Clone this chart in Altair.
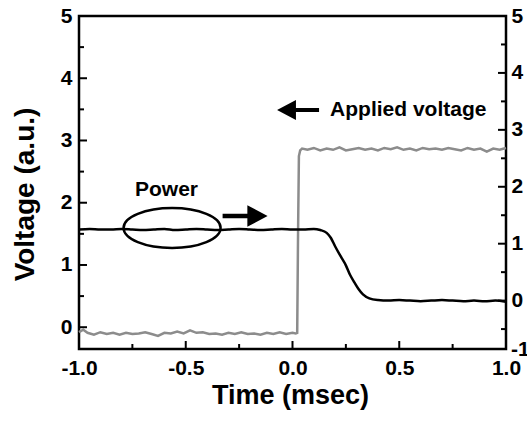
import altair as alt
import pandas as pd

# ---------------- data ----------------
applied_t = [-1.00, -0.98, -0.96, -0.93, -0.90, -0.87, -0.84, -0.81, -0.78, -0.75,
             -0.72, -0.69, -0.66, -0.63, -0.60, -0.57, -0.54, -0.51, -0.48, -0.45,
             -0.42, -0.39, -0.36, -0.33, -0.30, -0.27, -0.24, -0.21, -0.18, -0.15,
             -0.12, -0.09, -0.06, -0.03, 0.00, 0.015, 0.022, 0.026, 0.030, 0.036,
             0.045, 0.07, 0.10, 0.13, 0.16, 0.19, 0.22, 0.25, 0.28, 0.31,
             0.34, 0.37, 0.40, 0.43, 0.46, 0.49, 0.52, 0.55, 0.58, 0.61,
             0.64, 0.67, 0.70, 0.73, 0.76, 0.79, 0.82, 0.85, 0.88, 0.91,
             0.94, 0.97, 1.00]
applied_v = [-0.08, -0.04, -0.09, -0.12, -0.08, -0.11, -0.09, -0.12, -0.09, -0.11,
             -0.10, -0.08, -0.11, -0.14, -0.09, -0.10, -0.07, -0.10, -0.05, -0.09,
             -0.08, -0.11, -0.10, -0.12, -0.09, -0.11, -0.08, -0.11, -0.10, -0.12,
             -0.09, -0.11, -0.08, -0.11, -0.09, -0.10, -0.09, 1.50, 2.75, 2.84,
             2.87, 2.85, 2.88, 2.84, 2.87, 2.85, 2.89, 2.84, 2.86, 2.88,
             2.85, 2.87, 2.84, 2.88, 2.86, 2.89, 2.85, 2.87, 2.84, 2.88,
             2.86, 2.87, 2.85, 2.88, 2.86, 2.84, 2.88, 2.85, 2.87, 2.82,
             2.87, 2.85, 2.88]

power_t = [-1.00, -0.95, -0.90, -0.85, -0.80, -0.75, -0.70, -0.65, -0.60, -0.55,
           -0.50, -0.45, -0.40, -0.35, -0.30, -0.25, -0.20, -0.15, -0.10, -0.05,
           0.00, 0.05, 0.10, 0.13, 0.16, 0.18, 0.20, 0.23, 0.25, 0.27,
           0.29, 0.31, 0.33, 0.36, 0.40, 0.45, 0.50, 0.55, 0.60, 0.65,
           0.70, 0.75, 0.80, 0.85, 0.90, 0.95, 1.00]
power_v = [1.25, 1.26, 1.25, 1.25, 1.26, 1.25, 1.24, 1.25, 1.26, 1.24,
           1.25, 1.26, 1.25, 1.24, 1.25, 1.26, 1.25, 1.24, 1.25, 1.26,
           1.25, 1.25, 1.26, 1.24, 1.19, 1.10, 0.95, 0.75, 0.62, 0.45,
           0.32, 0.20, 0.11, 0.04, 0.01, 0.00, 0.01, 0.00, -0.01, 0.00,
           0.01, 0.00, -0.01, 0.00, -0.01, 0.00, -0.02]

x_major = [-1.0, -0.5, 0.0, 0.5, 1.0]
x_minor = [-0.75, -0.25, 0.25, 0.75]
left_major = [0, 1, 2, 3, 4, 5]
left_minor = [0.5, 1.5, 2.5, 3.5, 4.5]
right_major = [0, 1, 2, 3, 4, 5]
right_minor = [-0.5, 0.5, 1.5, 2.5, 3.5, 4.5]
right_bottom_label = ["-1"]

left_domain = [-0.35, 5]
right_domain = [-0.85, 5]

label_text = ["Power", "Applied voltage"]
label_t = [-0.59, 0.176]
label_v = [2.2, 3.49]

ellipse_t = [-0.564]
ellipse_v = [1.594]
arrow_right_t = [-0.222]
arrow_right_v = [1.787]
arrow_left_t = [0.026]
arrow_left_v = [3.49]

# ---------------- styling ----------------
FONT = "Liberation Sans"
W, H = 427, 333
GRAY = "#8c8c8c"

ARROW = "M -1 -0.1 L 0.1 -0.1 L 0.1 -0.48 L 1 0 L 0.1 0.48 L 0.1 0.1 L -1 0.1 Z"
k = 0.41
c = round(0.5523 * k, 4)
ELLIPSE = (f"M -1 0 C -1 {-c} -0.5523 {-k} 0 {-k} C 0.5523 {-k} 1 {-c} 1 0 "
           f"C 1 {c} 0.5523 {k} 0 {k} C -0.5523 {k} -1 {c} -1 0 Z")

x_scale = alt.Scale(domain=[-1, 1], nice=False, zero=False)
yl_scale = alt.Scale(domain=left_domain, nice=False, zero=False)
yr_scale = alt.Scale(domain=right_domain, nice=False, zero=False)

x_axis = alt.Axis(orient="bottom", values=x_major,
                  labelExpr="datum.value < 0 ? '-' + format(-datum.value, '.1f') : format(datum.value, '.1f')",
                  ticks=False, domain=False, grid=False,
                  labelFont=FONT, labelFontSize=21, labelFontWeight="bold",
                  labelColor="black", labelPadding=8, labelFlush=False,
                  title="Time (msec)", titleFont=FONT, titleFontSize=27,
                  titleFontWeight="bold", titleColor="black",
                  titleAnchor="middle", titleAlign="center", titleBaseline="middle",
                  titleX=211, titleY=46)
yl_axis = alt.Axis(orient="left", values=left_major, format="d",
                   ticks=False, domain=False, grid=False,
                   labelFont=FONT, labelFontSize=21, labelFontWeight="bold",
                   labelColor="black", labelPadding=7, labelFlush=False,
                   title="Voltage (a.u.)", titleFont=FONT, titleFontSize=28,
                   titleFontWeight="bold", titleColor="black",
                   titleAngle=270, titleAlign="center", titleBaseline="middle",
                   titleX=-54, titleY=178)
yr_axis = alt.Axis(orient="right", values=right_major, format="d",
                   ticks=False, domain=False, grid=False,
                   labelFont=FONT, labelFontSize=21, labelFontWeight="bold",
                   labelColor="black", labelPadding=5, labelFlush=False,
                   title=None)


def X():
    # every layer carries the identical x axis so the shared axis merges cleanly
    return alt.X("t:Q", scale=x_scale, axis=x_axis)


df_applied = pd.DataFrame({"t": applied_t, "v": applied_v})
df_power = pd.DataFrame({"t": power_t, "p": power_v})

applied_line = alt.Chart(df_applied).mark_line(color=GRAY, strokeWidth=2.5).encode(
    x=X(),
    y=alt.Y("v:Q", scale=yl_scale, axis=yl_axis),
)

power_line = alt.Chart(df_power).mark_line(color="black", strokeWidth=2.5,
                                           interpolate="monotone").encode(
    x=X(),
    y=alt.Y("p:Q", scale=yr_scale, axis=yr_axis),
)


def lrule(vals, length):
    return alt.Chart(pd.DataFrame({"v": vals})).mark_rule(color="black", strokeWidth=2).encode(
        y=alt.Y("v:Q", scale=yl_scale, axis=None),
        x=alt.value(0), x2=alt.value(length))


def rrule(vals, length):
    return alt.Chart(pd.DataFrame({"p": vals})).mark_rule(color="black", strokeWidth=2).encode(
        y=alt.Y("p:Q", scale=yr_scale, axis=None),
        x=alt.value(W), x2=alt.value(W - length))


def xrule(vals, length):
    return alt.Chart(pd.DataFrame({"t": vals})).mark_rule(color="black", strokeWidth=2).encode(
        x=X(),
        y=alt.value(H), y2=alt.value(H - length))


df_labels = pd.DataFrame({"t": label_t, "v": label_v, "txt": label_text})
power_label = alt.Chart(df_labels).transform_filter(alt.datum.txt == "Power").mark_text(
    font=FONT, fontSize=21, fontWeight="bold", color="black", baseline="middle",
    align="center").encode(
    x=X(),
    y=alt.Y("v:Q", scale=yl_scale, axis=None),
    text="txt:N")
applied_label = alt.Chart(df_labels).transform_filter(alt.datum.txt == "Applied voltage").mark_text(
    font=FONT, fontSize=21, fontWeight="bold", color="black", baseline="middle",
    align="left").encode(
    x=X(),
    y=alt.Y("v:Q", scale=yl_scale, axis=None),
    text="txt:N")

minus_one = alt.Chart(pd.DataFrame({"txt": right_bottom_label})).mark_text(
    font=FONT, fontSize=21, fontWeight="bold", color="black", baseline="middle",
    align="left").encode(
    x=alt.value(W + 5), y=alt.value(H + 1), text="txt:N")

ellipse = alt.Chart(pd.DataFrame({"t": ellipse_t, "v": ellipse_v})).mark_point(
    shape=ELLIPSE, size=9409, filled=False, stroke="black", strokeWidth=2.5, opacity=1).encode(
    x=X(),
    y=alt.Y("v:Q", scale=yl_scale, axis=None))

arrow_r = alt.Chart(pd.DataFrame({"t": arrow_right_t, "v": arrow_right_v})).mark_point(
    shape=ARROW, size=2025, filled=True, color="black", opacity=1, strokeWidth=0).encode(
    x=X(),
    y=alt.Y("v:Q", scale=yl_scale, axis=None))

arrow_l = alt.Chart(pd.DataFrame({"t": arrow_left_t, "v": arrow_left_v})).mark_point(
    shape=ARROW, size=1764, filled=True, color="black", opacity=1, strokeWidth=0,
    angle=180).encode(
    x=X(),
    y=alt.Y("v:Q", scale=yl_scale, axis=None))

chart = alt.layer(
    applied_line, power_line,
    lrule(left_major, 8), lrule(left_minor, 5),
    rrule(right_major, 8), rrule(right_minor, 5),
    xrule(x_major, 8), xrule(x_minor, 5),
    power_label, applied_label, minus_one, ellipse, arrow_r, arrow_l,
).resolve_scale(y="independent").properties(
    width=W, height=H,
    background="white",
    autosize=alt.AutoSizeParams(type="none"),
    padding={"left": 79, "top": 16, "right": 21, "bottom": 81},
).configure_view(stroke="black", strokeWidth=2.5)

chart.save("out.html", embed_options={"renderer": "svg", "actions": False})
